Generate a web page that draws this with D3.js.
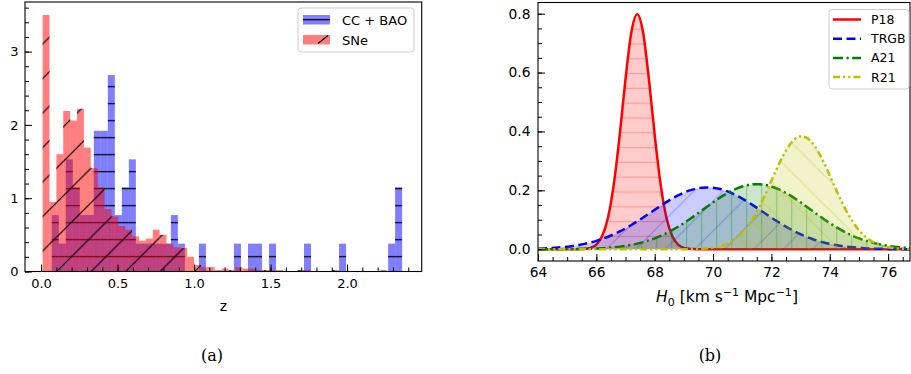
<!DOCTYPE html>
<html>
<head>
<meta charset="utf-8">
<script src="https://cdn.jsdelivr.net/npm/d3@7"></script>
<style>
  body { margin: 0; background: #fff; }
  svg { display: block; font-family: "DejaVu Sans", sans-serif; }
</style>
</head>
<body>
<div id="container"></div>
<script>
/**
 * DATA
 * */
// (a) redshift histograms, density per bin (50 bins each)
const ccBaoBinStart = 0.07, ccBaoBinWidth = 0.0458;
const sneBinStart = 0.01, sneBinWidth = 0.045;

const ccBaoDensity = [0.77, 0.38, 1.53, 1.15, 0.77, 0.77, 1.92, 1.92, 2.68, 0.77,
  1.15, 1.53, 0.38, 0.38, 0.38, 0.38, 0.38, 0.77, 0.38, 0,
  0, 0.38, 0, 0, 0, 0, 0.38, 0, 0.38, 0.38,
  0, 0.38, 0, 0, 0, 0, 0.38, 0, 0, 0,
  0, 0.38, 0, 0, 0, 0, 0, 0, 0.38, 1.15];

const sneDensity = [3.50, 0.95, 1.60, 2.19, 2.06, 2.22, 1.69, 1.41, 1.15, 0.85,
  0.75, 0.62, 0.57, 0.48, 0.42, 0.45, 0.57, 0.50, 0.38, 0.33,
  0.32, 0.20, 0.09, 0.06, 0.06, 0.02, 0.04, 0.02, 0.06, 0.04,
  0.04, 0.02, 0.02, 0.02, 0.02, 0, 0, 0.02, 0.02, 0,
  0, 0, 0.02, 0, 0, 0, 0, 0, 0, 0.02];

const zTicks = [0, 0.5, 1.0, 1.5, 2.0];
const countTicks = [0, 1, 2, 3];

// (b) H0 posteriors
const h0Grid = [64, 64.2, 64.4, 64.6, 64.8, 65, 65.2, 65.4, 65.6, 65.8,
  66, 66.2, 66.4, 66.6, 66.8, 67, 67.2, 67.4, 67.6, 67.8,
  68, 68.2, 68.4, 68.6, 68.8, 69, 69.2, 69.4, 69.6, 69.8,
  70, 70.2, 70.4, 70.6, 70.8, 71, 71.2, 71.4, 71.6, 71.8,
  72, 72.2, 72.4, 72.6, 72.8, 73, 73.2, 73.4, 73.6, 73.8,
  74, 74.2, 74.4, 74.6, 74.8, 75, 75.2, 75.4, 75.6, 75.8,
  76, 76.2, 76.4, 76.6, 76.8, 77];

const p18 = [0, 0, 0, 0, 0, 0, 0, 0.0003, 0.0012, 0.0048,
  0.0158, 0.0448, 0.108, 0.222, 0.388, 0.579, 0.737, 0.798, 0.737, 0.579,
  0.388, 0.222, 0.108, 0.0448, 0.0158, 0.0048, 0.0012, 0.0003, 0, 0,
  0, 0, 0, 0, 0, 0, 0, 0, 0, 0,
  0, 0, 0, 0, 0, 0, 0, 0, 0, 0,
  0, 0, 0, 0, 0, 0, 0, 0, 0, 0,
  0, 0, 0, 0, 0, 0];

const trgb = [0.0020, 0.0027, 0.0037, 0.0050, 0.0066, 0.0086, 0.0112, 0.0144, 0.0182, 0.0229,
  0.0284, 0.0349, 0.0424, 0.0509, 0.0604, 0.0709, 0.0823, 0.0945, 0.1075, 0.1207,
  0.1341, 0.1473, 0.1601, 0.1720, 0.1828, 0.1922, 0.1998, 0.2054, 0.2088, 0.2100,
  0.2088, 0.2054, 0.1998, 0.1922, 0.1828, 0.1720, 0.1601, 0.1473, 0.1341, 0.1207,
  0.1075, 0.0945, 0.0823, 0.0709, 0.0604, 0.0509, 0.0424, 0.0349, 0.0284, 0.0229,
  0.0182, 0.0144, 0.0112, 0.0086, 0.0066, 0.0050, 0.0037, 0.0027, 0.0020, 0.0014,
  0.0010, 0.0007, 0.0005, 0.0003, 0.0002, 0.0001];

const a21 = [0.0001, 0.0001, 0.0001, 0.0002, 0.0003, 0.0005, 0.0007, 0.0010, 0.0014, 0.0019,
  0.0027, 0.0036, 0.0049, 0.0066, 0.0088, 0.0115, 0.0148, 0.0190, 0.0240, 0.0299,
  0.0369, 0.0450, 0.0543, 0.0647, 0.0762, 0.0887, 0.1020, 0.1160, 0.1305, 0.1449,
  0.1591, 0.1726, 0.1852, 0.1963, 0.2057, 0.2131, 0.2181, 0.2207, 0.2207, 0.2181,
  0.2131, 0.2057, 0.1963, 0.1852, 0.1726, 0.1591, 0.1449, 0.1305, 0.1160, 0.1020,
  0.0887, 0.0762, 0.0647, 0.0543, 0.0450, 0.0369, 0.0299, 0.0240, 0.0190, 0.0148,
  0.0115, 0.0088, 0.0066, 0.0049, 0.0036, 0.0027];

const r21 = [0, 0, 0, 0, 0, 0, 0, 0, 0, 0,
  0, 0, 0, 0, 0, 0, 0, 0, 0, 0,
  0, 0, 0, 0, 0.0001, 0.0002, 0.0004, 0.0008, 0.0016, 0.0030,
  0.0054, 0.0092, 0.0153, 0.0245, 0.0377, 0.0560, 0.0802, 0.1107, 0.1470, 0.1884,
  0.2327, 0.2768, 0.3175, 0.3508, 0.3735, 0.3833, 0.3791, 0.3613, 0.3318, 0.2937,
  0.2506, 0.2060, 0.1632, 0.1246, 0.0916, 0.0649, 0.0444, 0.0292, 0.0185, 0.0113,
  0.0067, 0.0038, 0.0021, 0.0011, 0.0006, 0.0003];

const h0Ticks = [64, 66, 68, 70, 72, 74, 76];
const pdfTicks = [0, 0.2, 0.4, 0.6, 0.8];

const curves = [
  { name: "P18",  values: p18,  color: "#ff0000", fill: "rgba(255,0,0,0.2)",   hatch: "hP18",  dash: null },
  { name: "TRGB", values: trgb, color: "#0000ff", fill: "rgba(0,0,255,0.2)",   hatch: "hTRGB", dash: "9,4.5" },
  { name: "A21",  values: a21,  color: "#008000", fill: "rgba(0,128,0,0.2)",   hatch: "hA21",  dash: "10,3.5,2.2,3.5" },
  { name: "R21",  values: r21,  color: "#bfbf00", fill: "rgba(191,191,0,0.2)", hatch: "hR21",  dash: "7,3,2.2,3,2.2,3" }
];

/**
 * SETUP
 * */
const width = 911, height = 374;
const fontSize = 13;

const svg = d3.select("#container")
  .append("svg")
  .attr("width", width)
  .attr("height", height);

const defs = svg.append("defs");

// hatch patterns (userSpaceOnUse so adjacent bars share one continuous pattern)
function hLines(id, period, oy, color, opacity) {
  const p = defs.append("pattern").attr("id", id)
    .attr("patternUnits", "userSpaceOnUse")
    .attr("width", 10).attr("height", period).attr("y", oy);
  p.append("line").attr("x1", 0).attr("x2", 10)
    .attr("y1", period / 2).attr("y2", period / 2)
    .attr("stroke", color).attr("stroke-opacity", opacity).attr("stroke-width", 1.2);
}
function vLines(id, period, ox, color, opacity) {
  const p = defs.append("pattern").attr("id", id)
    .attr("patternUnits", "userSpaceOnUse")
    .attr("width", period).attr("height", 10).attr("x", ox);
  p.append("line").attr("y1", 0).attr("y2", 10)
    .attr("x1", period / 2).attr("x2", period / 2)
    .attr("stroke", color).attr("stroke-opacity", opacity).attr("stroke-width", 1.2);
}
function dLines(id, period, ox, dir, color, opacity) {
  const P = period;
  const p = defs.append("pattern").attr("id", id)
    .attr("patternUnits", "userSpaceOnUse")
    .attr("width", P).attr("height", P).attr("x", ox);
  const d = dir > 0
    ? `M0,${P}L${P},0M-2,2L2,-2M${P - 2},${P + 2}L${P + 2},${P - 2}`
    : `M0,0L${P},${P}M-2,${P - 2}L2,${P + 2}M${P - 2},-2L${P + 2},2`;
  p.append("path").attr("d", d)
    .attr("stroke", color).attr("stroke-opacity", opacity).attr("stroke-width", 1.2);
}

hLines("hBlue", 17, 10.2, "#000", 1);
dLines("hRed", 34.5, 17.7, 1, "#000", 1);
hLines("hP18", 14.8, 7, "#ff0000", 0.25);
dLines("hTRGB", 29.5, 0, 1, "#0000ff", 0.25);
vLines("hA21", 15, 694.2, "#008000", 0.3);
dLines("hR21", 29.5, 0, -1, "#bfbf00", 0.3);

function styleAxis(size) {
  return g => {
    g.select(".domain").remove();
    g.selectAll(".tick line").attr("stroke", "#000").attr("stroke-width", 1);
    g.selectAll(".tick text").attr("font-size", size).attr("fill", "#000")
      .attr("font-family", "DejaVu Sans");
  };
}

/**
 * PANEL (a)
 * */
const A = { left: 25, right: 421.7, top: 2, bottom: 271.5 };

const xA = d3.scaleLinear().domain([-0.105, 2.488]).range([A.left, A.right]);
const yA = d3.scaleLinear().domain([0, 3.677]).range([A.bottom, A.top]);

const gA = svg.append("g");

function bars(density, start, w) {
  return density.map((v, i) => ({ x0: start + i * w, x1: start + (i + 1) * w, v }))
    .filter(d => d.v > 0);
}
const blueBars = bars(ccBaoDensity, ccBaoBinStart, ccBaoBinWidth);
const redBars = bars(sneDensity, sneBinStart, sneBinWidth);

[[blueBars, "#0000ff", "hBlue"], [redBars, "#ff0000", "hRed"]].forEach(([data, color, hatch]) => {
  const g = gA.append("g");
  g.selectAll("rect.fill")
    .data(data)
    .join("rect")
    .attr("class", "fill")
    .attr("x", d => xA(d.x0))
    .attr("width", d => xA(d.x1) - xA(d.x0))
    .attr("y", d => yA(d.v))
    .attr("height", d => yA(0) - yA(d.v))
    .attr("fill", color)
    .attr("fill-opacity", 0.5);
  g.selectAll("rect.hatch")
    .data(data)
    .join("rect")
    .attr("class", "hatch")
    .attr("x", d => xA(d.x0))
    .attr("width", d => xA(d.x1) - xA(d.x0))
    .attr("y", d => yA(d.v))
    .attr("height", d => yA(0) - yA(d.v))
    .attr("fill", `url(#${hatch})`);
});

// axes (ticks pointing in)
gA.append("g").attr("transform", `translate(0,${A.bottom})`)
  .call(d3.axisBottom(xA).tickValues(d3.range(0, 2.45, 0.1)).tickSize(-4).tickFormat(""))
  .call(styleAxis(fontSize));
gA.append("g").attr("transform", `translate(0,${A.bottom})`)
  .call(d3.axisBottom(xA).tickValues(zTicks).tickSize(-7).tickPadding(7).tickFormat(d3.format(".1f")))
  .call(styleAxis(fontSize));
gA.append("g").attr("transform", `translate(${A.left},0)`)
  .call(d3.axisLeft(yA).tickValues(d3.range(0, 3.65, 0.2)).tickSize(-4).tickFormat(""))
  .call(styleAxis(fontSize));
gA.append("g").attr("transform", `translate(${A.left},0)`)
  .call(d3.axisLeft(yA).tickValues(countTicks).tickSize(-7).tickPadding(6.5).tickFormat(d3.format("d")))
  .call(styleAxis(fontSize));

gA.append("rect")
  .attr("x", A.left).attr("y", A.top)
  .attr("width", A.right - A.left).attr("height", A.bottom - A.top)
  .attr("fill", "none").attr("stroke", "#000").attr("stroke-width", 1.1);

gA.append("text")
  .attr("x", (A.left + A.right) / 2).attr("y", 310.5)
  .attr("text-anchor", "middle").attr("font-size", 14)
  .text("z");

// legend (a)
const legA = gA.append("g").attr("transform", "translate(298,8)");
legA.append("rect").attr("width", 116).attr("height", 44).attr("rx", 3)
  .attr("fill", "#fff").attr("fill-opacity", 0.8)
  .attr("stroke", "#cccccc").attr("stroke-width", 1);
legA.append("rect").attr("x", 5).attr("y", 7).attr("width", 27).attr("height", 9.5)
  .attr("fill", "#0000ff").attr("fill-opacity", 0.5);
legA.append("line").attr("x1", 5).attr("x2", 32).attr("y1", 11.7).attr("y2", 11.7)
  .attr("stroke", "#000").attr("stroke-width", 1.2);
legA.append("rect").attr("x", 5).attr("y", 27).attr("width", 27).attr("height", 9.5)
  .attr("fill", "#ff0000").attr("fill-opacity", 0.5);
legA.append("line").attr("x1", 20).attr("x2", 30).attr("y1", 35.5).attr("y2", 27.5)
  .attr("stroke", "#000").attr("stroke-width", 1.2);
legA.selectAll("text.lab")
  .data(["CC + BAO", "SNe"])
  .join("text")
  .attr("class", "lab")
  .attr("x", 44)
  .attr("y", (d, i) => 16.5 + i * 20)
  .attr("font-size", 13)
  .text(d => d);

/**
 * PANEL (b)
 * */
const B = { left: 538, right: 910, top: 2.5, bottom: 261 };
const fontB = 13.8;

const xB = d3.scaleLinear().domain([64, 76.75]).range([B.left, B.right]);
const yB = d3.scaleLinear().domain([-0.04, 0.838]).range([B.bottom, B.top]);

defs.append("clipPath").attr("id", "clipB")
  .append("rect").attr("x", B.left).attr("y", B.top)
  .attr("width", B.right - B.left).attr("height", B.bottom - B.top);

const gB = svg.append("g");
const plotB = gB.append("g").attr("clip-path", "url(#clipB)");

const area = d3.area().x(d => xB(d[0])).y0(yB(0)).y1(d => yB(d[1])).curve(d3.curveMonotoneX);
const line = d3.line().x(d => xB(d[0])).y(d => yB(d[1])).curve(d3.curveMonotoneX);

curves.forEach(c => {
  const pts = h0Grid.map((h, i) => [h, c.values[i]]);
  plotB.append("path").datum(pts).attr("d", area).attr("fill", c.fill);
  plotB.append("path").datum(pts).attr("d", area).attr("fill", `url(#${c.hatch})`);
  plotB.append("path").datum(pts).attr("d", line)
    .attr("fill", "none")
    .attr("stroke", c.color)
    .attr("stroke-width", 2.5)
    .attr("stroke-dasharray", c.dash);
});

gB.append("g").attr("transform", `translate(0,${B.bottom})`)
  .call(d3.axisBottom(xB).tickValues(d3.range(64, 76.6, 0.5)).tickSize(-4).tickFormat(""))
  .call(styleAxis(fontB));
gB.append("g").attr("transform", `translate(0,${B.bottom})`)
  .call(d3.axisBottom(xB).tickValues(h0Ticks).tickSize(-7).tickPadding(6.5).tickFormat(d3.format("d")))
  .call(styleAxis(fontB));
gB.append("g").attr("transform", `translate(${B.left},0)`)
  .call(d3.axisLeft(yB).tickValues(d3.range(0, 0.83, 0.05)).tickSize(-4).tickFormat(""))
  .call(styleAxis(fontB));
gB.append("g").attr("transform", `translate(${B.left},0)`)
  .call(d3.axisLeft(yB).tickValues(pdfTicks).tickSize(-7).tickPadding(7.5).tickFormat(d3.format(".1f")))
  .call(styleAxis(fontB));

gB.append("rect")
  .attr("x", B.left).attr("y", B.top)
  .attr("width", B.right - B.left).attr("height", B.bottom - B.top)
  .attr("fill", "none").attr("stroke", "#000").attr("stroke-width", 1.1);

const xlab = gB.append("text")
  .attr("x", (B.left + B.right) / 2 + 3).attr("y", 302)
  .attr("text-anchor", "middle").attr("font-size", 15.5);
xlab.append("tspan").attr("font-style", "italic").text("H");
xlab.append("tspan").attr("font-size", 11).attr("dy", 3.5).text("0");
xlab.append("tspan").attr("dy", -3.5).text(" [km s");
xlab.append("tspan").attr("font-size", 11).attr("dy", -6).text("\u22121");
xlab.append("tspan").attr("dy", 6).text(" Mpc");
xlab.append("tspan").attr("font-size", 11).attr("dy", -6).text("\u22121");
xlab.append("tspan").attr("dy", 6).text("]");

// legend (b)
const legB = gB.append("g").attr("transform", "translate(829,9.5)");
legB.append("rect").attr("width", 80).attr("height", 79.5).attr("rx", 3)
  .attr("fill", "#fff").attr("fill-opacity", 0.8)
  .attr("stroke", "#cccccc").attr("stroke-width", 1);
curves.forEach((c, i) => {
  const yy = 10 + i * 19.2;
  legB.append("line").attr("x1", 4).attr("x2", 32).attr("y1", yy).attr("y2", yy)
    .attr("stroke", c.color).attr("stroke-width", 2.5)
    .attr("stroke-dasharray", c.dash);
  legB.append("text").attr("x", 42).attr("y", yy + 4.5)
    .attr("font-size", 12.5).text(c.name);
});

/**
 * SUBCAPTIONS
 * */
svg.selectAll("text.cap")
  .data([["(a)", 212], ["(b)", 710]])
  .join("text")
  .attr("class", "cap")
  .attr("x", d => d[1]).attr("y", 361)
  .attr("text-anchor", "middle")
  .attr("font-family", "DejaVu Serif, serif")
  .attr("font-size", 16)
  .text(d => d[0]);
</script>
</body>
</html>
